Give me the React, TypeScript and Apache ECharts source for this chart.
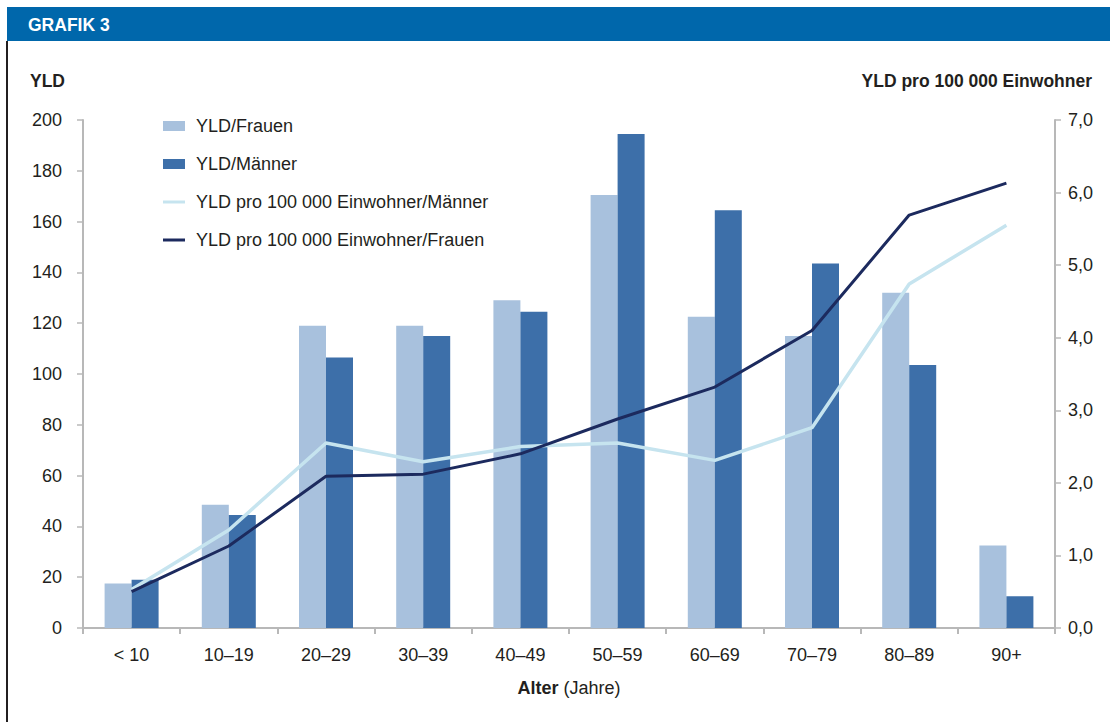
import React, { useEffect, useRef } from "react";
import * as echarts from "echarts";

const categories = ["< 10", "10–19", "20–29", "30–39", "40–49", "50–59", "60–69", "70–79", "80–89", "90+"];
const yldFrauen = [17.5, 48.5, 119, 119, 129, 170.5, 122.5, 115, 132, 32.5];
const yldMaenner = [19, 44.5, 106.5, 115, 124.5, 194.5, 164.5, 143.5, 103.5, 12.5];
const rateMaenner = [0.53, 1.35, 2.55, 2.29, 2.5, 2.55, 2.31, 2.76, 4.74, 5.55];
const rateFrauen = [0.5, 1.13, 2.09, 2.12, 2.4, 2.88, 3.32, 4.1, 5.69, 6.13];
const leftTicks = { min: 0, max: 200, interval: 20 };
const rightTicks = { min: 0, max: 7, interval: 1 };

const FONT = "'Liberation Sans', Arial, sans-serif";
const TXT = "#231f20";
const AXIS = "#b8b8b8";
const FS = 18;
const LINE_ICON = "path://M0,0 H22 V3 H0 Z";

export default function App() {
  const ref = useRef<HTMLDivElement>(null);
  useEffect(() => {
    const chart = echarts.init(ref.current!, null, { renderer: "svg" });
    chart.setOption({
      animation: false,
      backgroundColor: "#ffffff",
      textStyle: { fontFamily: FONT },
      graphic: [
        { type: "rect", shape: { x: 7, y: 7, width: 1103, height: 34 }, style: { fill: "#0067ab" } },
        { type: "rect", shape: { x: 6, y: 41, width: 2, height: 681 }, style: { fill: "#231f20" } },
        {
          type: "text", x: 28, y: 25,
          style: { text: "GRAFIK 3", fill: "#ffffff", font: `bold 17.5px ${FONT}`, verticalAlign: "middle" },
        },
        {
          type: "text", x: 30, y: 81,
          style: { text: "YLD", fill: TXT, font: `bold 17.5px ${FONT}`, verticalAlign: "middle" },
        },
        {
          type: "text", x: 1092, y: 81,
          style: { text: "YLD pro 100 000 Einwohner", fill: TXT, font: `bold 17.5px ${FONT}`, align: "right", verticalAlign: "middle" },
        },
      ],
      legend: {
        orient: "vertical",
        left: 163,
        top: 117,
        padding: 0,
        itemWidth: 22,
        itemHeight: 10,
        itemGap: 20,
        textStyle: { fontSize: FS, lineHeight: 18, color: TXT, fontFamily: FONT, padding: [0, 0, 0, 6] },
        data: [
          { name: "YLD/Frauen", icon: "rect" },
          { name: "YLD/Männer", icon: "rect" },
          { name: "YLD pro 100 000 Einwohner/Männer", icon: LINE_ICON },
          { name: "YLD pro 100 000 Einwohner/Frauen", icon: LINE_ICON },
        ],
      },
      grid: { left: 83, right: 55, top: 120, bottom: 94, containLabel: false },
      xAxis: {
        type: "category",
        data: categories,
        boundaryGap: true,
        axisLine: { lineStyle: { color: AXIS, width: 2 } },
        axisTick: { show: true, length: 6, lineStyle: { color: AXIS, width: 2 } },
        axisLabel: { color: TXT, fontSize: FS, margin: 18, fontFamily: FONT },
        name: "{b|Alter} (Jahre)",
        nameLocation: "middle",
        nameGap: 51,
        nameTextStyle: {
          color: TXT, fontSize: FS, fontFamily: FONT,
          rich: { b: { fontWeight: "bold", fontSize: FS, color: TXT, fontFamily: FONT } },
        },
      },
      yAxis: [
        {
          type: "value",
          min: leftTicks.min, max: leftTicks.max, interval: leftTicks.interval,
          axisLine: { show: true, lineStyle: { color: AXIS, width: 2 } },
          axisTick: { show: true, length: 6, lineStyle: { color: AXIS, width: 1.5 } },
          splitLine: { show: false },
          axisLabel: { color: TXT, fontSize: FS, margin: 21, fontFamily: FONT },
        },
        {
          type: "value",
          min: rightTicks.min, max: rightTicks.max, interval: rightTicks.interval,
          position: "right",
          axisLine: { show: true, lineStyle: { color: AXIS, width: 2 } },
          axisTick: { show: true, length: 6, lineStyle: { color: AXIS, width: 1.5 } },
          splitLine: { show: false },
          axisLabel: {
            color: TXT, fontSize: FS, margin: 13, fontFamily: FONT,
            formatter: (v: number) => v.toFixed(1).replace(".", ","),
          },
        },
      ],
      series: [
        {
          name: "YLD/Frauen", type: "bar", data: yldFrauen, yAxisIndex: 0,
          barWidth: 27, barGap: "0%",
          itemStyle: { color: "#a8c1dd" },
        },
        {
          name: "YLD/Männer", type: "bar", data: yldMaenner, yAxisIndex: 0,
          barWidth: 27, barGap: "0%",
          itemStyle: { color: "#3d6fa9" },
        },
        {
          name: "YLD pro 100 000 Einwohner/Männer", type: "line", data: rateMaenner, yAxisIndex: 1,
          symbol: "none", lineStyle: { color: "#c6e4ef", width: 3.5 }, itemStyle: { color: "#c6e4ef" },
        },
        {
          name: "YLD pro 100 000 Einwohner/Frauen", type: "line", data: rateFrauen, yAxisIndex: 1,
          symbol: "none", lineStyle: { color: "#1c2a5e", width: 3 }, itemStyle: { color: "#1c2a5e" },
        },
      ],
    });
    return () => chart.dispose();
  }, []);
  return (
    <div
      ref={ref}
      style={{ position: "fixed", left: 0, top: 0, width: 1110, height: 722 }}
    />
  );
}
